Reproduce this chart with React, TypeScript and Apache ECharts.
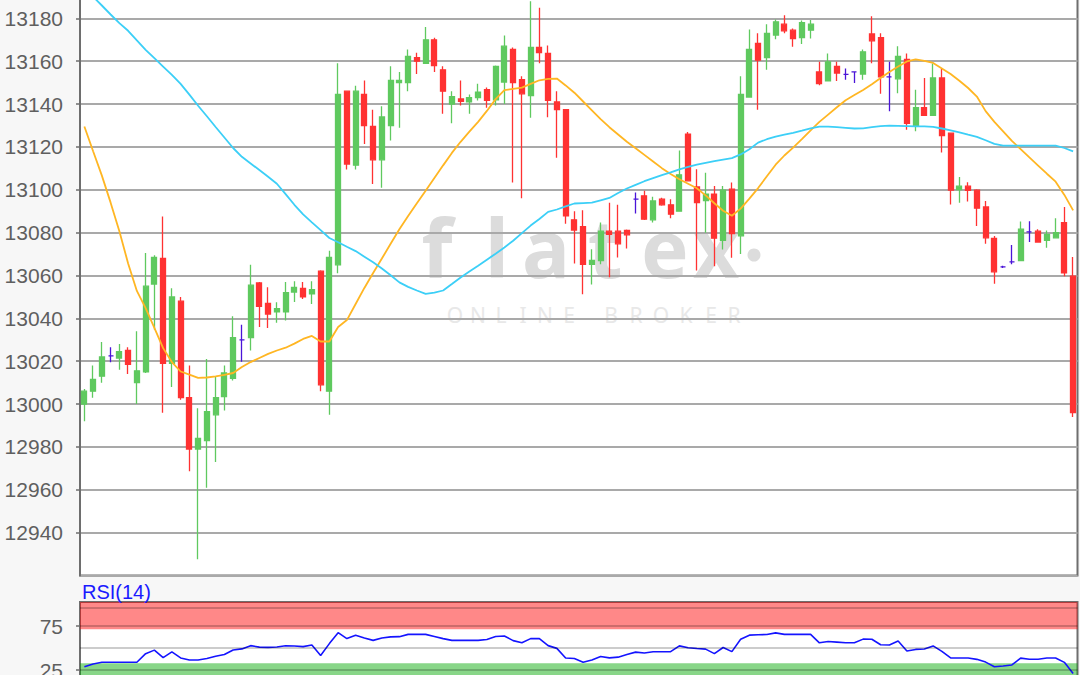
import React, { useEffect, useRef } from 'react';
import * as echarts from 'echarts';

// Candle data (open, close, low, high), oldest first
const opens = [
  13000, 13006, 13013, 13022.5, 13021.5, 13025, 13010, 13015, 13056, 13068,
  13019, 13048, 13003, 12979, 12983, 12995, 13003.5, 13012, 13030, 13031,
  13056.5, 13047, 13043, 13043, 13052.3, 13054, 13051.4, 13062, 13006, 13065,
  13146, 13111.5, 13144.5, 13129.6, 13114, 13130, 13150, 13150, 13161.7, 13159,
  13170, 13156, 13140, 13142.4, 13141, 13143, 13146.7, 13142, 13150.3, 13165.5,
  13151.4, 13144, 13166.4, 13163.6, 13141, 13137.4, 13086, 13082.8, 13065.2, 13067,
  13080.7, 13080.7, 13081, 13095.6, 13097.2, 13086, 13095.6, 13093, 13090, 13126,
  13101.3, 13095, 13098, 13076.4, 13100.3, 13078.5, 13143.3, 13168.3, 13161.7, 13172.2,
  13177.3, 13174.5, 13171, 13174.5, 13155, 13150.8, 13157.6, 13153.9, 13155, 13154,
  13172.7, 13171, 13152.7, 13151.8, 13160.8, 13130, 13138.3, 13134.7, 13152.2, 13126.4,
  13100.1, 13101.7, 13099.8, 13092, 13077.3, 13064, 13066.4, 13067, 13080.4, 13080.7,
  13076.4, 13077.6, 13084.7, 13059.7,
];
const closes = [
  13006, 13011.5, 13022, 13022.5, 13024.5, 13018.5, 13015.5, 13055, 13068.5, 13019,
  13050, 13003, 12979, 12984, 12996.5, 13003, 13014.5, 13031, 13030, 13055.5,
  13045.6, 13042, 13044.5, 13052, 13054.5, 13050, 13053.4, 13009, 13068.5, 13144.5,
  13112, 13146, 13130, 13114, 13134, 13151, 13151, 13162.3, 13160, 13170,
  13158, 13146, 13143.5, 13141.3, 13143, 13145.6, 13141.7, 13157.6, 13167, 13150,
  13144.8, 13166.4, 13164, 13141.7, 13137.4, 13087.8, 13081.2, 13065.2, 13067, 13080.7,
  13079.2, 13074.8, 13079, 13095.6, 13086.3, 13094.8, 13093, 13088.6, 13107, 13104.2,
  13094, 13098, 13077.4, 13099.8, 13079.5, 13144.5, 13165.5, 13160.5, 13173, 13178.4,
  13174.2, 13170.6, 13178, 13177.3, 13149.5, 13159.7, 13154.5, 13153.9, 13155, 13164.4,
  13169.5, 13152.7, 13152.7, 13162.3, 13131, 13138.3, 13134.7, 13152.2, 13125.3, 13099.8,
  13101.7, 13099.7, 13091.4, 13077.6, 13061.7, 13064, 13066.4, 13081.6, 13080.4, 13075.6,
  13079.2, 13080, 13061.2, 12996,
];
const lows = [
  12992, 13003, 13010, 13019.5, 13016, 13014, 13000, 13014.5, 13034.7, 12996,
  13008, 13002, 12968.6, 12927.6, 12961, 12973, 12997, 13011, 13019.8, 13025,
  13036, 13035.5, 13038, 13039, 13047.6, 13049, 13046.7, 13006, 12995, 13061,
  13109.5, 13109.5, 13121.4, 13102.7, 13101, 13123, 13129, 13146, 13154, 13159,
  13155, 13135.5, 13131, 13139.3, 13135.5, 13141.7, 13138.3, 13139.3, 13140, 13103.4,
  13096, 13133.6, 13159, 13133.8, 13115, 13084.2, 13065.6, 13051.2, 13055.8, 13065.2,
  13059.2, 13068.4, 13072.6, 13088.9, 13085.9, 13084.7, 13092.5, 13086.7, 13089.9, 13104,
  13062.3, 13080, 13064.3, 13072.1, 13068.3, 13070, 13143, 13137.4, 13156, 13170.2,
  13173, 13166.7, 13168, 13170.6, 13148.8, 13150.8, 13150.8, 13151.4, 13149.8, 13151.4,
  13159, 13144.8, 13136.7, 13145, 13128, 13127.3, 13134.7, 13134.7, 13117.4, 13093.1,
  13094, 13094.5, 13083.1, 13074.8, 13056.1, 13063.5, 13065.2, 13067, 13075.6, 13075.6,
  13072.9, 13077.6, 13059.7, 12994,
];
const highs = [
  13007, 13018, 13029, 13026.5, 13028, 13026.5, 13034, 13070.5, 13069.5, 13087.5,
  13054, 13050, 13018, 12998, 13021, 13013, 13018, 13041, 13037, 13065,
  13057, 13054.5, 13047.5, 13057, 13057.3, 13057, 13057.3, 13062.5, 13071.5, 13159,
  13146, 13148.5, 13151, 13137.4, 13139, 13157.6, 13155, 13165.5, 13164, 13176,
  13171, 13157.6, 13146, 13151, 13144.5, 13149.5, 13147.7, 13158, 13172, 13166.4,
  13153, 13188, 13185, 13167.3, 13146, 13137.5, 13090, 13090.5, 13072.2, 13084.7,
  13094, 13093, 13081.5, 13098.7, 13099.6, 13096.7, 13096.3, 13095.6, 13118.3, 13127,
  13109.6, 13108, 13101.8, 13101.8, 13103.4, 13153, 13174.8, 13173, 13177.3, 13179.5,
  13181.5, 13175.3, 13179, 13179.2, 13159.7, 13163.6, 13159.7, 13156.6, 13155, 13165.5,
  13181, 13173, 13159.7, 13167, 13163.6, 13146.7, 13152.2, 13158.9, 13156.5, 13126.5,
  13106, 13103.5, 13100.3, 13094.8, 13078.4, 13064.5, 13074.2, 13085.2, 13085.3, 13081.6,
  13081, 13086.7, 13092, 13068.6,
];

// Moving averages
const maFast = [
  13129.5, 13118.0, 13106.6, 13094.0, 13080.7, 13065.6, 13052.8, 13044.8, 13035.6, 13026.1,
  13019.6, 13015.2, 13013.7, 13012.2, 13012.4, 13012.9, 13013.6, 13014.5, 13017.3, 13019.6,
  13021.5, 13023.4, 13025.0, 13026.3, 13028.2, 13030.4, 13031.8, 13029.2, 13029.2, 13036.0,
  13039.2, 13046.7, 13054.2, 13061.2, 13067.9, 13074.8, 13081.6, 13087.8, 13093.7, 13099.6,
  13105.5, 13111.4, 13117.2, 13122.4, 13127.1, 13131.7, 13136.8, 13142.3, 13146.5, 13147.1,
  13147.7, 13149.4, 13151.1, 13151.8, 13151.9, 13148.7, 13145.3, 13141.2, 13137.1, 13133.0,
  13129.2, 13125.8, 13122.4, 13119.4, 13116.3, 13113.2, 13110.1, 13107.4, 13104.9, 13102.8,
  13100.7, 13097.4, 13093.7, 13090.2, 13087.9, 13091.2, 13095.9, 13100.8, 13106.3, 13111.7,
  13116.0, 13119.7, 13123.6, 13127.7, 13131.7, 13135.1, 13138.5, 13141.8, 13144.2, 13146.6,
  13149.3, 13152.2, 13155.0, 13157.5, 13159.9, 13160.9, 13160.2, 13159.2, 13156.6, 13154.0,
  13150.9, 13147.5, 13143.5, 13136.7, 13131.7, 13127.3, 13122.8, 13119.0, 13115.1, 13111.3,
  13107.5, 13103.8, 13097.6, 13090.4,
];
const maSlow = [
  13194.2, 13190.1, 13186.0, 13181.8, 13177.8, 13174.2, 13169.7, 13165.3, 13161.4, 13157.5,
  13153.6, 13149.4, 13144.4, 13139.2, 13134.3, 13129.3, 13124.4, 13119.5, 13115.4, 13112.3,
  13109.2, 13106.1, 13102.8, 13098.0, 13093.0, 13088.5, 13084.8, 13081.2, 13077.5, 13075.5,
  13073.4, 13071.4, 13068.8, 13066.2, 13063.3, 13060.1, 13056.8, 13054.7, 13053.0, 13051.4,
  13052.0, 13053.0, 13056.0, 13059.1, 13061.9, 13064.6, 13067.4, 13070.2, 13073.1, 13076.2,
  13079.8, 13083.3, 13086.4, 13089.7, 13090.8, 13092.3, 13093.6, 13093.8, 13094.0, 13095.1,
  13096.2, 13098.5, 13100.6, 13102.3, 13104.0, 13105.4, 13106.8, 13108.1, 13109.5, 13110.7,
  13111.7, 13112.6, 13113.4, 13114.1, 13114.8, 13116.5, 13118.9, 13122.0, 13123.6, 13124.8,
  13125.7, 13126.6, 13127.6, 13128.7, 13129.5, 13129.5, 13129.2, 13128.9, 13128.6, 13128.7,
  13129.2, 13129.7, 13129.9, 13129.8, 13129.7, 13129.6, 13129.6, 13129.4, 13128.6, 13127.7,
  13126.8, 13125.7, 13124.7, 13123.1, 13121.4, 13120.6, 13120.6, 13120.6, 13120.6, 13120.6,
  13120.6, 13120.6, 13119.5, 13117.9,
];

// RSI(14)
const rsi = [
  28.6, 31.9, 33.8, 33.8, 33.8, 33.8, 33.8, 43.6, 47.6, 39.0,
  45.6, 38.7, 36.4, 36.3, 38.0, 40.6, 42.6, 47.7, 49.0, 52.7,
  51.0, 50.7, 51.1, 52.6, 52.3, 51.6, 53.5, 41.5, 55.0, 67.4,
  60.7, 64.6, 61.4, 58.7, 61.3, 62.7, 62.9, 65.5, 65.5, 65.5,
  63.1, 60.7, 58.7, 58.7, 58.7, 58.7, 59.6, 63.0, 63.7, 58.4,
  56.0, 60.7, 60.7, 52.7, 49.6, 38.6, 38.0, 33.9, 36.3, 40.3,
  38.8, 39.6, 42.7, 45.3, 44.3, 45.8, 45.8, 45.8, 52.4, 50.3,
  49.4, 48.7, 43.6, 50.6, 45.9, 59.9, 64.6, 65.0, 65.4, 67.2,
  65.5, 65.5, 65.5, 65.5, 55.9, 57.4, 56.7, 55.9, 55.9, 60.1,
  59.9, 53.7, 53.5, 57.9, 46.7, 48.4, 48.9, 52.4, 46.2, 38.8,
  38.6, 38.6, 37.1, 34.0, 28.7, 29.6, 30.7, 38.5, 37.3, 37.2,
  38.6, 38.6, 33.7, 20.9,
];

const categories = opens.map((_, i) => String(i + 1));

const rsiLevels = [25, 50, 75, 95.5];
const rsiOverbought = [71.3, 102.3];
const rsiOversold = [0, 32.6];

const GREEN = '#5fc95f';
const RED = '#ff3232';
const DOJI = '#4a14d8';
const FONT = '"Liberation Sans", Arial, sans-serif';

export default function App() {
  const ref = useRef<HTMLDivElement>(null);

  useEffect(() => {
    if (!ref.current) return;
    const chart = echarts.init(ref.current, null, { renderer: 'svg' });

    const candleData = opens.map((o, i) => {
      const item: any = { value: [o, closes[i], lows[i], highs[i]] };
      if (o === closes[i]) {
        item.itemStyle = {
          color: DOJI, color0: DOJI, borderColor: DOJI, borderColor0: DOJI, borderColorDoji: DOJI,
        };
      }
      return item;
    });

    const wmLetters = [
      { t: 'f', x: 437 }, { t: 'l', x: 497 }, { t: 'a', x: 546 },
      { t: 't', x: 605 }, { t: 'e', x: 665 }, { t: 'x', x: 716 },
    ];
    const subLetters = [
      { t: 'O', x: 455 }, { t: 'N', x: 478 }, { t: 'L', x: 501 }, { t: 'I', x: 523 },
      { t: 'N', x: 545 }, { t: 'E', x: 569 }, { t: 'B', x: 611 }, { t: 'R', x: 636 },
      { t: 'O', x: 661 }, { t: 'K', x: 686 }, { t: 'E', x: 711 }, { t: 'R', x: 734 },
    ];

    const graphics: any[] = [];
    wmLetters.forEach((l) => {
      graphics.push({
        type: 'text', z: -1,
        style: {
          text: l.t, x: l.x, y: 246, fill: '#dcdcdc',
          font: 'bold 80px "Noto Sans", sans-serif', textAlign: 'center', textVerticalAlign: 'middle',
        },
      });
    });
    graphics.push({ type: 'circle', z: -1, shape: { cx: 754, cy: 255, r: 6.5 }, style: { fill: '#dcdcdc' } });
    subLetters.forEach((l) => {
      graphics.push({
        type: 'text', z: -1,
        style: {
          text: l.t, x: l.x, y: 315, fill: '#e8e8e8',
          font: '21px "Noto Sans", sans-serif', textAlign: 'center', textVerticalAlign: 'middle',
        },
      });
    });
    graphics.push({
      type: 'text', z: 10,
      style: {
        text: 'RSI(14)', x: 82, y: 592, fill: '#1a1aff',
        font: '20px ' + FONT, textAlign: 'left', textVerticalAlign: 'middle',
      },
    });

    const option: any = {
      animation: false,
      backgroundColor: '#f7f7f7',
      graphic: graphics,
      grid: [
        {
          left: 80, top: -24.5, width: 997.5, height: 600, show: true, outerBoundsMode: 'none',
          containLabel: false,
          backgroundColor: '#ffffff', borderColor: '#6e6e6e', borderWidth: 2, z: -2,
        },
        {
          left: 80, top: 602, width: 997.5, height: 90, show: true, outerBoundsMode: 'none',
          containLabel: false,
          backgroundColor: '#ffffff', borderColor: '#6e6e6e', borderWidth: 2, z: -2,
        },
      ],
      xAxis: [
        {
          type: 'category', gridIndex: 0, data: categories, boundaryGap: true,
          axisLine: { show: false }, axisTick: { show: false }, axisLabel: { show: false },
          splitLine: { show: false },
        },
        {
          type: 'category', gridIndex: 1, data: categories, boundaryGap: true,
          axisLine: { show: false }, axisTick: { show: false }, axisLabel: { show: false },
          splitLine: { show: false },
        },
      ],
      yAxis: [
        {
          type: 'value', gridIndex: 0, min: 12920, max: 13200, interval: 20,
          axisLine: { show: true, lineStyle: { color: '#6e6e6e', width: 2 } },
          axisTick: { show: true, length: 4, lineStyle: { color: '#6e6e6e', width: 1.5 } },
          axisLabel: {
            color: '#5f5f5f', fontSize: 21, fontFamily: FONT, margin: 17,
            showMinLabel: false, showMaxLabel: false,
            formatter: (v: number) => String(v),
          },
          splitLine: { show: true, lineStyle: { color: '#a9a9a9', width: 2 } },
        },
        {
          type: 'value', gridIndex: 1, min: 0, max: 102.3, interval: 25,
          axisLine: { show: true, lineStyle: { color: '#6e6e6e', width: 2 } },
          axisTick: { show: true, length: 4, customValues: [25, 75], lineStyle: { color: '#6e6e6e', width: 1.5 } },
          axisLabel: {
            color: '#5f5f5f', fontSize: 21, fontFamily: FONT, margin: 17,
            customValues: [25, 75],
            formatter: (v: number) => (v === 25 || v === 75 ? String(v) : ''),
          },
          splitLine: { show: false },
        },
      ],
      series: [
        {
          type: 'candlestick', xAxisIndex: 0, yAxisIndex: 0, data: candleData,
          barWidth: 5.5,
          itemStyle: {
            color: GREEN, color0: RED, borderColor: GREEN, borderColor0: RED,
            borderColorDoji: DOJI, borderWidth: 1.3,
          },
        },
        {
          type: 'line', xAxisIndex: 0, yAxisIndex: 0, data: maFast, symbol: 'none', z: 3,
          lineStyle: { color: '#ffb623', width: 1.8 },
        },
        {
          type: 'line', xAxisIndex: 0, yAxisIndex: 0, data: maSlow, symbol: 'none', z: 3,
          lineStyle: { color: '#3ccff7', width: 1.8 },
        },
        {
          type: 'line', xAxisIndex: 1, yAxisIndex: 1, data: rsi, symbol: 'none', z: 3,
          lineStyle: { color: '#1414ff', width: 1.6 },
          markArea: {
            silent: true,
            data: [
              [{ yAxis: rsiOverbought[0], itemStyle: { color: 'rgba(255,0,0,0.467)' } }, { yAxis: rsiOverbought[1] }],
              [{ yAxis: rsiOversold[0], itemStyle: { color: 'rgba(0,167,0,0.467)' } }, { yAxis: rsiOversold[1] }],
            ],
          },
          markLine: {
            silent: true, symbol: 'none', label: { show: false },
            lineStyle: { color: 'rgba(0,0,0,0.27)', width: 1.6, type: 'solid' },
            data: rsiLevels.map((v) => ({ yAxis: v })),
          },
        },
      ],
    };

    chart.setOption(option);
    return () => chart.dispose();
  }, []);

  return (
    <div
      ref={ref}
      style={{ position: 'fixed', left: 0, top: 0, width: 1080, height: 675, background: '#f7f7f7' }}
    />
  );
}
